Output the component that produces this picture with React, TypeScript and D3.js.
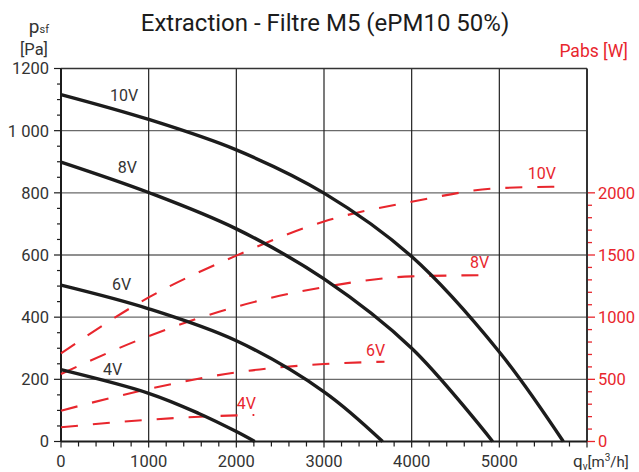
import React from "react";
import * as d3 from "d3";

const W = 639;
const H = 472;

// Pressure curves (q [m3/h], p [Pa])
const curve10V: [number, number][] = [[0, 1116], [1000, 1036], [2000, 938], [3000, 799], [4000, 595], [5000, 288], [5730, 0]];
const curve8V: [number, number][] = [[0, 899], [1000, 801], [2000, 684], [3000, 523], [4000, 300], [4924, 0]];
const curve6V: [number, number][] = [[0, 503], [1000, 427], [2000, 324], [3000, 160], [3669, 0]];
const curve4V: [number, number][] = [[0, 231], [1000, 155], [1566, 91], [2000, 32], [2210, 0]];

// Power curves (q [m3/h], Pabs [W])
const power10V: [number, number][] = [[0, 709], [1000, 1159], [2000, 1495], [3000, 1770], [4000, 1928], [5000, 2038], [5700, 2050]];
const power8V: [number, number][] = [[0, 543], [1000, 848], [2000, 1084], [3000, 1242], [4000, 1328], [4910, 1338]];
const power6V: [number, number][] = [[0, 248], [1000, 422], [2000, 556], [3000, 623], [3690, 642]];
const power4V: [number, number][] = [[0, 114], [1000, 175], [2000, 210], [2205, 213]];

const pressureCurves = [curve10V, curve8V, curve6V, curve4V];
const powerCurves = [power10V, power8V, power6V, power4V];

// labels: [text, q, value]
const pressureLabels: [string, number, number][] = [["10V", 559, 1096], ["8V", 647, 863], ["6V", 582, 487], ["4V", 479, 214]];
const powerLabels: [string, number, number][] = [["10V", 5323, 2109], ["8V", 4665, 1393], ["6V", 3479, 688], ["4V", 2004, 259]];

const xTicks = [0, 1000, 2000, 3000, 4000, 5000];
const xTickLabels = ["0", "1000", "2000", "3000", "4000", "5000"];
const yTicks = [0, 200, 400, 600, 800, 1000, 1200];
const yTickLabels = ["0", "200", "400", "600", "800", "1 000", "1200"];
const yRTicks = [0, 500, 1000, 1500, 2000];
const yRTickLabels = ["0", "500", "1000", "1500", "2000"];

const title = "Extraction - Filtre M5 (ePM10 50%)";

const RED = "#e8262d";
const DARK = "#1c1c1c";
const TEXT = "#333";
const FONT = "Roboto, 'DejaVu Sans', sans-serif";

export default function App() {
  const x = d3.scaleLinear().domain([0, 6000]).range([61, 587]);
  const y = d3.scaleLinear().domain([0, 1200]).range([441.5, 68.5]);
  const yR = d3.scaleLinear().domain([0, 3000]).range([441.5, 68.5]);

  const lineP = d3.line<[number, number]>().x(d => x(d[0])).y(d => y(d[1])).curve(d3.curveCatmullRom.alpha(0.5));
  const lineW = d3.line<[number, number]>().x(d => x(d[0])).y(d => yR(d[1])).curve(d3.curveMonotoneX);

  const xMinor = d3.range(0, 6001, 200);
  const yMinor = d3.range(0, 1201, 50);
  const yRMinor = d3.range(0, 2001, 100);

  const [x0, x1] = x.range();
  const [yb, yt] = y.range();

  return (
    <svg width={W} height={H} style={{ position: "absolute", left: 0, top: 0, background: "#fff" }} fontFamily={FONT}>
      <rect x={0} y={0} width={W} height={H} fill="#fff" />
      {/* title */}
      <text x={325} y={31} textAnchor="middle" fontSize={24} fill={DARK}>{title}</text>

      {/* grid */}
      {yTicks.filter(t => t > 0 && t < 1200).map(t => (
        <line key={"gy" + t} x1={x0} x2={x1} y1={y(t)} y2={y(t)} stroke="#6a6a6a" strokeWidth={1.4} />
      ))}
      {xTicks.filter(t => t > 0).map(t => (
        <line key={"gx" + t} x1={x(t)} x2={x(t)} y1={yb} y2={yt} stroke="#222" strokeWidth={1.2} />
      ))}
      {/* frame */}
      <line x1={x0} x2={x1} y1={yt} y2={yt} stroke="#333" strokeWidth={1.6} />

      {/* left ticks */}
      {yMinor.map(t => (
        <line key={"ly" + t} x1={x0 - (t % 200 === 0 ? 7 : 4)} x2={x0} y1={y(t)} y2={y(t)} stroke={DARK} strokeWidth={1.2} />
      ))}
      {yTicks.map((t, i) => (
        <text key={"lyt" + t} x={49} y={y(t)} dy="0.36em" textAnchor="end" fontSize={16.5} fill={TEXT}>{yTickLabels[i]}</text>
      ))}

      {/* bottom ticks */}
      {xMinor.map(t => (
        <line key={"bx" + t} x1={x(t)} x2={x(t)} y1={yb} y2={yb + (t % 1000 === 0 ? 6 : 5)} stroke={DARK} strokeWidth={1.2} />
      ))}
      {xTicks.map((t, i) => (
        <text key={"bxt" + t} x={x(t)} y={467} textAnchor="middle" fontSize={16.5} fill={TEXT}>{xTickLabels[i]}</text>
      ))}

      {/* right ticks */}
      {yRMinor.map(t => (
        <line key={"ry" + t} x1={x1} x2={x1 + (t % 500 === 0 ? 8 : 5)} y1={yR(t)} y2={yR(t)} stroke={RED} strokeWidth={1.3} />
      ))}
      {yRTicks.map((t, i) => (
        <text key={"ryt" + t} x={598} y={yR(t)} dy="0.36em" textAnchor="start" fontSize={16.5} fill={RED}>{yRTickLabels[i]}</text>
      ))}

      {/* axes */}
      <line x1={x0} x2={x0} y1={yb} y2={yt} stroke={DARK} strokeWidth={2} />
      <line x1={x1} x2={x1} y1={yb} y2={yt} stroke="#333" strokeWidth={2} />
      <line x1={x0} x2={x1} y1={yb} y2={yb} stroke={DARK} strokeWidth={2} />

      {/* power curves */}
      {powerCurves.map((c, i) => (
        <path key={"pw" + i} d={lineW(c) || ""} fill="none" stroke={RED} strokeWidth={2.1} strokeDasharray="17,15" />
      ))}
      {/* pressure curves */}
      {pressureCurves.map((c, i) => (
        <path key={"pc" + i} d={lineP(c) || ""} fill="none" stroke={DARK} strokeWidth={3.4} />
      ))}

      {/* curve labels */}
      {pressureLabels.map(([t, q, v]) => (
        <text key={"pl" + t} x={x(q)} y={y(v)} fontSize={16} fill={TEXT}>{t}</text>
      ))}
      {powerLabels.map(([t, q, v]) => (
        <text key={"wl" + t} x={x(q)} y={yR(v)} fontSize={16} fill={RED}>{t}</text>
      ))}

      {/* axis titles */}
      <text x={49} y={33} textAnchor="end" fill={TEXT}>
        <tspan fontSize={19}>p</tspan>
        <tspan fontSize={11}>sf</tspan>
      </text>
      <text x={48} y={55} textAnchor="end" fontSize={16.5} fill={TEXT}>[Pa]</text>
      <text x={628} y={57} textAnchor="end" fontSize={17.5} fill={RED}>Pabs [W]</text>
      <text x={573} y={467} textAnchor="start" fill={TEXT}>
        <tspan fontSize={17}>q</tspan>
        <tspan fontSize={10} dy={3}>v</tspan>
        <tspan fontSize={15} dy={-3}>[m</tspan>
        <tspan fontSize={10} dy={-6}>3</tspan>
        <tspan fontSize={15} dy={6}>/h]</tspan>
      </text>
    </svg>
  );
}
